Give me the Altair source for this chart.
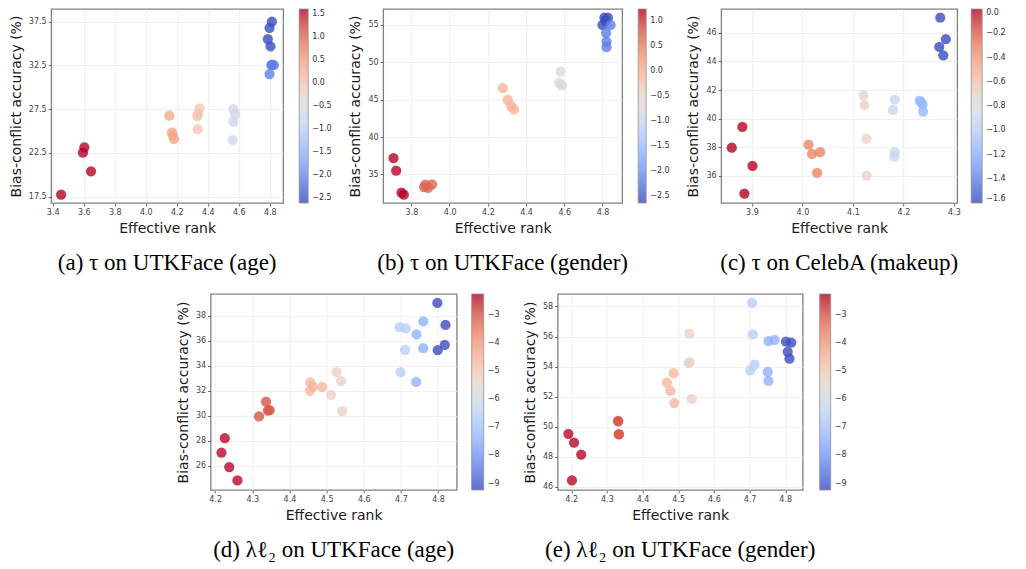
import altair as alt
import pandas as pd

# ---------------- data ----------------
# (a) tau on UTKFace (age)
A_RANK = [3.454, 3.604, 3.595, 3.647,
          4.152, 4.169, 4.173, 4.182,
          4.347, 4.336, 4.333, 4.334,
          4.564, 4.577, 4.564, 4.560,
          4.813, 4.798, 4.787, 4.804,
          4.809, 4.826, 4.798, 4.815]
A_ACC = [17.73, 23.14, 22.53, 20.40,
         26.76, 24.85, 24.55, 24.10,
         27.60, 26.95, 26.70, 25.23,
         27.50, 26.90, 26.07, 23.97,
         37.50, 36.78, 35.52, 34.68,
         32.55, 32.55, 31.52, 32.60]
A_VAL = [1.61] * 4 + [0.4] * 4 + [0.0] * 4 + [-0.7] * 4 + [-2.6] * 4 + [-2.1] * 4

# (b) tau on UTKFace (gender)
B_RANK = [3.706, 3.720, 3.748, 3.760,
          3.873, 3.887, 3.908, 3.866,
          4.278, 4.304, 4.322, 4.336,
          4.580, 4.572, 4.589, 4.583,
          4.810, 4.828, 4.800, 4.815,
          4.842, 4.819, 4.821, 4.821]
B_ACC = [37.18, 35.49, 32.55, 32.28,
         33.62, 33.20, 33.66, 33.30,
         46.54, 44.98, 44.13, 43.69,
         48.76, 47.30, 46.90, 47.00,
         55.98, 55.98, 55.00, 55.60,
         55.00, 53.93, 52.77, 52.02]
B_VAL = [1.24] * 4 + [0.7] * 4 + [0.0] * 4 + [-0.75] * 4 + [-2.65] * 4 + [-2.2] * 4

# (c) tau on CelebA (makeup)
C_RANK = [3.860, 3.881, 3.901, 3.885,
          4.012, 4.019, 4.035, 4.029,
          4.121, 4.123, 4.127, 4.127,
          4.183, 4.179, 4.183, 4.182,
          4.232, 4.238, 4.239, 4.235,
          4.273, 4.284, 4.271, 4.279]
C_ACC = [37.96, 39.41, 36.68, 34.74,
         38.17, 37.52, 37.64, 36.19,
         41.63, 40.95, 38.59, 36.00,
         41.33, 40.60, 37.64, 37.33,
         41.26, 41.00, 40.49, 41.15,
         47.07, 45.56, 45.02, 44.43]
C_VAL = [0.0] * 4 + [-0.32] * 4 + [-0.7] * 4 + [-0.92] * 4 + [-1.15] * 4 + [-1.6] * 4

# (d) lambda_l2 on UTKFace (age)
D_RANK = [4.226, 4.217, 4.238, 4.260,
          4.337, 4.318, 4.342, 4.347,
          4.456, 4.455, 4.463, 4.488,
          4.527, 4.539, 4.512, 4.542,
          4.696, 4.713, 4.711, 4.699,
          4.760, 4.742, 4.760, 4.741,
          4.798, 4.820, 4.799, 4.818]
D_ACC = [28.20, 27.05, 25.89, 24.82,
         31.12, 29.94, 30.41, 30.44,
         32.67, 31.99, 32.30, 32.30,
         33.48, 32.77, 31.67, 30.36,
         37.08, 36.98, 35.27, 33.48,
         37.55, 36.50, 35.40, 32.70,
         39.02, 37.26, 35.24, 35.66]
D_VAL = [-2.3] * 4 + [-3.0] * 4 + [-4.6] * 4 + [-5.3] * 4 + [-6.6] * 4 + [-7.4] * 4 + [-9.21] * 4

# (e) lambda_l2 on UTKFace (gender)
E_RANK = [4.192, 4.208, 4.228, 4.202,
          4.331, 4.333, 4.332, 4.334,
          4.487, 4.468, 4.478, 4.489,
          4.531, 4.529, 4.532, 4.538,
          4.707, 4.709, 4.714, 4.702,
          4.753, 4.770, 4.751, 4.753,
          4.802, 4.817, 4.807, 4.812]
E_ACC = [49.52, 48.93, 48.14, 46.42,
         50.39, 49.48, 50.35, 49.50,
         53.56, 52.93, 52.38, 51.57,
         56.19, 54.24, 54.30, 51.84,
         58.24, 56.14, 54.13, 53.74,
         55.70, 55.77, 53.65, 53.04,
         55.66, 55.60, 54.98, 54.52]
E_VAL = [-2.3] * 4 + [-3.0] * 4 + [-4.6] * 4 + [-5.3] * 4 + [-6.6] * 4 + [-7.4] * 4 + [-9.21] * 4

CAPTIONS = ["(a) τ on UTKFace (age)", "(b) τ on UTKFace (gender)", "(c) τ on CelebA (makeup)",
            "(d) λℓ₂ on UTKFace (age)", "(e) λℓ₂ on UTKFace (gender)"]

COOLWARM = ["#3b4cc0", "#5977e3", "#7b9ff9", "#9ebeff", "#c0d4f5", "#dddcdc",
            "#f2cbb7", "#f7ac8e", "#ee8468", "#d65244", "#b40426"]


def panel(rank, acc, val, xdom, ydom, xticks, yticks, yfmt, cdom, cticks, cfmt,
          caption, w, h, gthick, loff):
    df = pd.DataFrame({"rank": rank, "acc": acc, "val": val})
    return alt.Chart(df).mark_circle(size=105, opacity=0.8).encode(
        x=alt.X("rank:Q",
                scale=alt.Scale(domain=xdom, nice=False, zero=False),
                axis=alt.Axis(values=xticks, format=".1f", title="Effective rank")),
        y=alt.Y("acc:Q",
                scale=alt.Scale(domain=ydom, nice=False, zero=False),
                axis=alt.Axis(values=yticks, format=yfmt, title="Bias-conflict accuracy (%)")),
        color=alt.Color("val:Q",
                        scale=alt.Scale(domain=cdom, range=COOLWARM, interpolate="rgb"),
                        legend=alt.Legend(values=cticks, format=cfmt, title=None,
                                          gradientLength=h, gradientThickness=gthick,
                                          offset=loff, labelOverlap=False,
                                          gradientStrokeColor="#777", gradientStrokeWidth=0.8,
                                          labelFontSize=8, labelFont="DejaVu Sans",
                                          labelColor="#333", padding=0, labelOffset=4)),
    ).properties(
        width=w, height=h,
        title=alt.TitleParams(caption, orient="bottom", anchor="middle", offset=17,
                              font="Liberation Serif", fontSize=23, fontWeight="normal",
                              color="#000"),
    )


pa = panel(A_RANK, A_ACC, A_VAL, [3.39, 4.886], [16.78, 38.95],
           [3.4, 3.6, 3.8, 4.0, 4.2, 4.4, 4.6, 4.8], [17.5, 22.5, 27.5, 32.5, 37.5], ".1f",
           [-2.6, 1.61], [-2.5, -2.0, -1.5, -1.0, -0.5, 0.0, 0.5, 1.0, 1.5], ".1f",
           CAPTIONS[0], 232, 194, 9, 16)
pb = panel(B_RANK, B_ACC, B_VAL, [3.652, 4.903], [31.17, 57.14],
           [3.8, 4.0, 4.2, 4.4, 4.6, 4.8], [35, 40, 45, 50, 55], "d",
           [-2.65, 1.24], [-2.5, -2.0, -1.5, -1.0, -0.5, 0.0, 0.5, 1.0], ".1f",
           CAPTIONS[1], 239, 194, 8, 16)
pc = panel(C_RANK, C_ACC, C_VAL, [3.839, 4.3065], [34.08, 47.68],
           [3.9, 4.0, 4.1, 4.2, 4.3], [36, 38, 40, 42, 44, 46], "d",
           [-1.6, 0.0], [-1.6, -1.4, -1.2, -1.0, -0.8, -0.6, -0.4, -0.2, 0.0], ".1f",
           CAPTIONS[2], 236, 194, 11, 14)
pd_ = panel(D_RANK, D_ACC, D_VAL, [4.188, 4.85], [24.06, 39.73],
            [4.2, 4.3, 4.4, 4.5, 4.6, 4.7, 4.8], [26, 28, 30, 32, 34, 36, 38], "d",
            [-9.23, -2.26], [-9, -8, -7, -6, -5, -4, -3], "d",
            CAPTIONS[3], 246, 196, 12, 15)
pe = panel(E_RANK, E_ACC, E_VAL, [4.162, 4.849], [45.78, 58.83],
           [4.2, 4.3, 4.4, 4.5, 4.6, 4.7, 4.8], [46, 48, 50, 52, 54, 56, 58], "d",
           [-9.23, -2.26], [-9, -8, -7, -6, -5, -4, -3], "d",
           CAPTIONS[4], 245, 196, 11, 17)

row1 = alt.hconcat(alt.hconcat(pa, pb, spacing=15).resolve_scale(color="independent"),
                   pc, spacing=15).resolve_scale(color="independent")
row2 = alt.hconcat(pd_, pe, spacing=22).resolve_scale(color="independent")

chart = alt.vconcat(row1, row2, spacing=17, center=True).resolve_scale(
    color="independent"
).properties(padding=0, background="white").configure_view(
    stroke="#808080", strokeWidth=1.3
).configure_axis(
    domain=False, grid=True, gridColor="#ebebeb", gridWidth=0.8,
    tickColor="#444", tickSize=3, tickWidth=0.8,
    labelFont="DejaVu Sans", labelFontSize=8, labelColor="#444", labelPadding=2,
    titleFont="DejaVu Sans", titleFontSize=14, titleFontWeight="normal", titleColor="#1a1a1a",
    titlePadding=5,
)

chart.save("out.html", embed_options={"renderer": "svg", "actions": False})
